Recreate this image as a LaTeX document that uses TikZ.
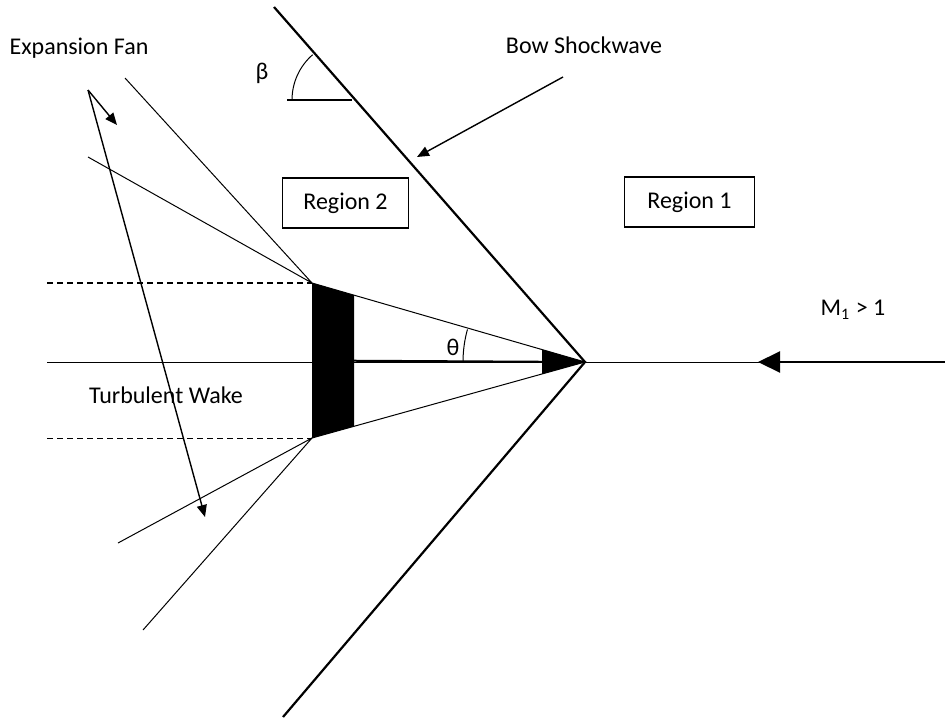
\documentclass[tikz,border=0pt]{standalone}
\usepackage{fontspec}
\setmainfont{Carlito}
\usetikzlibrary{positioning,calc,arrows.meta}

\tikzset{
  shock/.style={line width=1.1pt},
  thin line/.style={line width=0.5pt},
  wake line/.style={line width=0.6pt, dash pattern=on 3pt off 2pt},
  regionbox/.style={draw, rectangle, line width=0.6pt, minimum width=63pt, minimum height=25pt, font=\fontsize{12}{14}\selectfont},
  label text/.style={font=\fontsize{12}{14}\selectfont},
  pointer/.style={line width=0.7pt, -{Triangle[length=6pt,width=5pt]}},
}

\begin{document}
\begin{tikzpicture}[x=0.5pt,y=-0.5pt]
    \useasboundingbox (0,0) rectangle (945,717);

    % body of the wedge
    \coordinate (tip) at (585,362);
    \coordinate (baseT) at (312,283);
    \coordinate (baseB) at (312,438);
    \fill (baseT) -- ($(baseT)!0.154!(tip)$) -- ($(baseB)!0.154!(tip)$) -- (baseB) -- cycle;
    \fill ($(baseT)!0.8425!(tip)$) -- (tip) -- ($(baseB)!0.8425!(tip)$) -- cycle;
    \draw[thin line] (baseT) -- (tip) -- (baseB);

    % axis and free stream
    \coordinate (axisL) at (47,362);
    \coordinate (axisR) at (945,362);
    \coordinate (flowEnd) at (758,362);
    \draw[thin line] (axisL) -- (axisR);
    \draw[line width=1pt] ($(baseT)!0.5!(baseB)$) -- (tip);
    \draw[line width=1.1pt, -{Triangle[length=11pt,width=10.5pt]}] (axisR) -- (flowEnd);

    % bow shock
    \coordinate (shockT) at (274,7);
    \coordinate (shockB) at (283,717);
    \draw[shock] (shockT) -- (tip) -- (shockB);

    % wake boundaries
    \coordinate (wakeT) at (47,283);
    \coordinate (wakeB) at (47,438);
    \draw[wake line] (wakeT) -- (baseT);
    \draw[thin line, dash pattern=on 3pt off 2pt] (wakeB) -- (baseB);

    % expansion fans
    \coordinate (fanA) at (125,78);
    \coordinate (fanB) at (88,157);
    \coordinate (fanC) at (118,543);
    \coordinate (fanD) at (143,630);
    \draw[thin line] (fanA) -- (baseT) -- (fanB);
    \draw[thin line] (fanC) -- (baseB) -- (fanD);

    % angles
    \coordinate (betaC) at (352,100);
    \draw[shock] (287,100) -- (betaC);
    \draw[thin line] (292,100) arc[start angle=180, end angle=229, radius=60];
    \draw[thin line] (463,362) arc[start angle=180, end angle=195.5, radius=122];
    \node[label text] (beta) at (262,73) {β};
    \node[label text] (theta) at (453,347) {θ};

    % labels
    \node[label text] (fanlabel) at (79,48) {Expansion Fan};
    \node[label text] (shocklabel) at (584,45) {Bow Shockwave};
    \node[label text] (wakelabel) at (166,395) {Turbulent Wake};
    \node[label text] (mach) at (853,310) {M\textsubscript{1} > 1};
    \node[regionbox] (region2) at (345.5,203) {Region 2};
    \node[regionbox, minimum width=65pt] (region1) at (689.5,202) {Region 1};

    % pointers
    \coordinate (fanOrigin) at (88,90);
    \coordinate (shockFrom) at (563,77);
    \draw[pointer] (shockFrom) -- (417,157);
    \draw[pointer] (fanOrigin) -- (117,125);
    \draw[pointer] (fanOrigin) -- (205,517);
\end{tikzpicture}
\end{document}
